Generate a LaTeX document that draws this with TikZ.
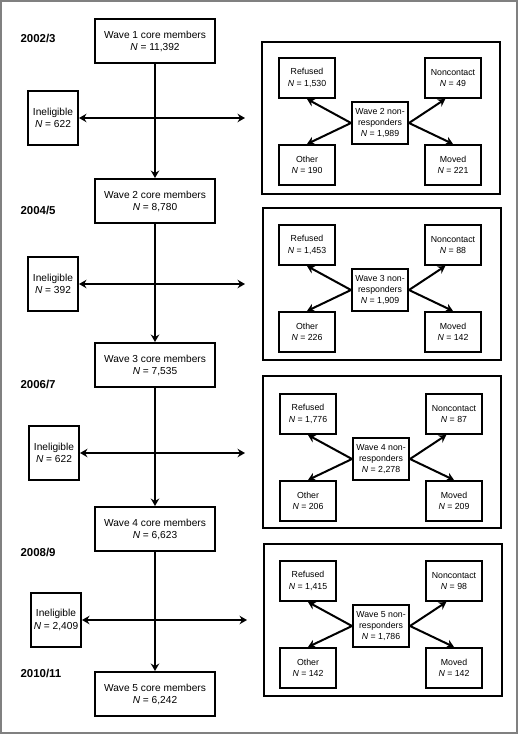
\documentclass[tikz,border=0pt]{standalone}
\usepackage{fontspec}
\setmainfont{Liberation Sans}
\usetikzlibrary{arrows.meta,positioning}

\begin{document}
\begin{tikzpicture}[%
            x=1bp, y=-1bp,
            >={Stealth[length=7.5bp, width=8.5bp, inset=2.5bp]},
            on grid,
            wave/.style={draw, line width=2bp, minimum width=120bp, minimum height=44bp, inner sep=1pt, align=center, font=\fontsize{10.2}{12}\selectfont},
            inel/.style={draw, line width=2bp, minimum width=50bp, minimum height=54bp, inner sep=1pt, align=center, font=\fontsize{10.2}{12.5}\selectfont},
            panel/.style={draw, line width=2bp, minimum width=238bp, minimum height=152bp},
            reason/.style={draw, line width=2bp, minimum width=56bp, minimum height=40bp, inner sep=1pt, align=center, font=\fontsize{8.8}{11.5}\selectfont},
            nonresp/.style={reason, minimum height=42bp},
            year/.style={anchor=west, font=\fontsize{11.5}{13}\selectfont\bfseries},
            flow/.style={->, line width=2bp}
            ]
            \useasboundingbox (0,0) rectangle (520,735);
            \draw[gray, line width=2bp] (1,1) rectangle (517,733);

            % years
            \node[year] (y1) at (17,38) {2002/3};
            \node[year] (y2) at (17,210) {2004/5};
            \node[year] (y3) at (17,384) {2006/7};
            \node[year] (y4) at (17,552) {2008/9};
            \node[year] (y5) at (17,673) {2010/11};

            % core members
            \node[wave] (w1) at (155,41) {Wave 1 core members\\\textit{N} = 11,392};
            \node[wave] (w2) at (155,201) {Wave 2 core members\\\textit{N} = 8,780};
            \node[wave] (w3) at (155,365) {Wave 3 core members\\\textit{N} = 7,535};
            \node[wave] (w4) at (155,529) {Wave 4 core members\\\textit{N} = 6,623};
            \node[wave] (w5) at (155,694) {Wave 5 core members\\\textit{N} = 6,242};

            % ineligible
            \node[inel] (in1) at (53,118) {Ineligible\\\textit{N} = 622};
            \node[inel] (in2) at (53,284) {Ineligible\\\textit{N} = 392};
            \node[inel] (in3) at (54,453) {Ineligible\\\textit{N} = 622};
            \node[inel] (in4) at (56,620) {Ineligible\\\textit{N} = 2,409};

            \coordinate (r1) at (245,118);
            \coordinate (r2) at (245,284);
            \coordinate (r3) at (245,453);
            \coordinate (r4) at (247,620);

            % non-responder panels
            \node[panel] (p1) at (381,118) {};
            \node[panel] (p2) at (382,284) {};
            \node[panel] (p3) at (382,452) {};
            \node[panel] (p4) at (383,620) {};

            \node[nonresp] (nr1) at (380,123) {Wave 2 non-\\responders\\\textit{N} = 1,989};
            \node[reason] (ref1) [above left=45bp and 73bp of nr1] {Refused\\\textit{N} = 1,530};
            \node[reason] (nc1) [above right=45bp and 73bp of nr1] {Noncontact\\\textit{N} = 49};
            \node[reason] (ot1) [below left=42bp and 73bp of nr1] {Other\\\textit{N} = 190};
            \node[reason] (mv1) [below right=42bp and 73bp of nr1] {Moved\\\textit{N} = 221};

            \node[nonresp] (nr2) at (380,290) {Wave 3 non-\\responders\\\textit{N} = 1,909};
            \node[reason] (ref2) [above left=45bp and 73bp of nr2] {Refused\\\textit{N} = 1,453};
            \node[reason] (nc2) [above right=45bp and 73bp of nr2] {Noncontact\\\textit{N} = 88};
            \node[reason] (ot2) [below left=42bp and 73bp of nr2] {Other\\\textit{N} = 226};
            \node[reason] (mv2) [below right=42bp and 73bp of nr2] {Moved\\\textit{N} = 142};

            \node[nonresp] (nr3) at (381,459) {Wave 4 non-\\responders\\\textit{N} = 2,278};
            \node[reason] (ref3) [above left=45bp and 73bp of nr3] {Refused\\\textit{N} = 1,776};
            \node[reason] (nc3) [above right=45bp and 73bp of nr3] {Noncontact\\\textit{N} = 87};
            \node[reason] (ot3) [below left=42bp and 73bp of nr3] {Other\\\textit{N} = 206};
            \node[reason] (mv3) [below right=42bp and 73bp of nr3] {Moved\\\textit{N} = 209};

            \node[nonresp] (nr4) at (381,626) {Wave 5 non-\\responders\\\textit{N} = 1,786};
            \node[reason] (ref4) [above left=45bp and 73bp of nr4] {Refused\\\textit{N} = 1,415};
            \node[reason] (nc4) [above right=45bp and 73bp of nr4] {Noncontact\\\textit{N} = 98};
            \node[reason] (ot4) [below left=42bp and 73bp of nr4] {Other\\\textit{N} = 142};
            \node[reason] (mv4) [below right=42bp and 73bp of nr4] {Moved\\\textit{N} = 142};

            % main flow
            \path[flow] (w1) edge (w2);
            \path[flow] (w2) edge (w3);
            \path[flow] (w3) edge (w4);
            \path[flow] (w4) edge (w5);

            \path[flow, <->] (in1) edge (r1);
            \path[flow, <->] (in2) edge (r2);
            \path[flow, <->] (in3) edge (r3);
            \path[flow, <->] (in4) edge (r4);

            % reasons
            \path[flow] (nr1.west) edge (ref1.south) edge (ot1.north);
            \path[flow] (nr1.east) edge (nc1.250) edge (mv1.north);
            \path[flow] (nr2.west) edge (ref2.south) edge (ot2.north);
            \path[flow] (nr2.east) edge (nc2.250) edge (mv2.north);
            \path[flow] (nr3.west) edge (ref3.south) edge (ot3.north);
            \path[flow] (nr3.east) edge (nc3.250) edge (mv3.north);
            \path[flow] (nr4.west) edge (ref4.south) edge (ot4.north);
            \path[flow] (nr4.east) edge (nc4.250) edge (mv4.north);

        \end{tikzpicture}
\end{document}
